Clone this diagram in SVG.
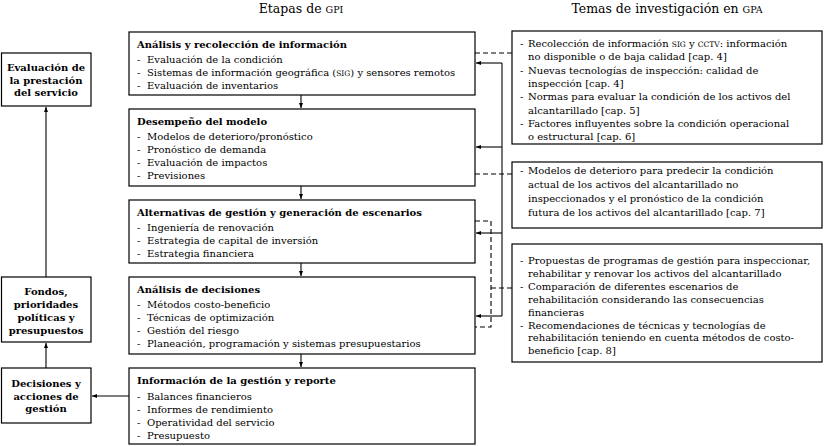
<svg xmlns="http://www.w3.org/2000/svg" width="824" height="446" viewBox="0 0 824 446">
<defs>
<marker id="ah" viewBox="0 0 6 6" refX="6" refY="3" markerWidth="5" markerHeight="5" orient="auto" markerUnits="userSpaceOnUse">
<path d="M0,0.6 L6,3 L0,5.4 Z" fill="#000"/>
</marker>
<style>
.box{fill:#fff;stroke:#000;stroke-width:1.2}
text{font-family:"DejaVu Serif","Liberation Serif",serif;fill:#000}
.t{font-size:12.5px}
.h{font-size:10px;font-weight:bold}
.b{font-size:10px}
.lb{font-size:10px;font-weight:bold;text-anchor:middle}
.sc{font-size:7.5px}
.sct{font-size:9.5px}
.ln{fill:none;stroke:#000;stroke-width:1.1}
.ds{fill:none;stroke:#000;stroke-width:1.1;stroke-dasharray:5,3}
</style>
</defs>
<rect width="824" height="446" fill="#fff"/>

<text class="t" x="301" y="13" text-anchor="middle">Etapas de <tspan class="sct">GPI</tspan></text>
<text class="t" x="667" y="13" text-anchor="middle">Temas de investigación en <tspan class="sct">GPA</tspan></text>

<g id="connectors">
<path class="ds" d="M475 53 H512"/>
<path class="ds" d="M475 174 H512"/>
<path class="ds" d="M475 221 H491 V327 H475"/>
<path class="ds" d="M491 288 H512"/>
<path class="ln" d="M502 63 V316"/>
<path class="ln" d="M502 63 H476" marker-end="url(#ah)"/>
<path class="ln" d="M502 147 H476" marker-end="url(#ah)"/>
<path class="ln" d="M502 233 H476" marker-end="url(#ah)"/>
<path class="ln" d="M502 316 H476" marker-end="url(#ah)"/>
<path class="ln" d="M301 95 V108" marker-end="url(#ah)"/>
<path class="ln" d="M301 186 V199" marker-end="url(#ah)"/>
<path class="ln" d="M301 263 V276" marker-end="url(#ah)"/>
<path class="ln" d="M301 354 V367" marker-end="url(#ah)"/>
<path class="ln" d="M129 396 H92" marker-end="url(#ah)"/>
<path class="ln" d="M46 368 V343" marker-end="url(#ah)"/>
<path class="ln" d="M46 277 V107" marker-end="url(#ah)"/>
</g>

<g id="eval">
<rect class="box" x="1.5" y="53" width="89.5" height="53"/>
<text class="lb"><tspan x="46" y="71">Evaluación de</tspan><tspan x="46" y="83.5">la prestación</tspan><tspan x="46" y="96">del servicio</tspan></text>
</g>
<g id="fondos">
<rect class="box" x="1.5" y="277" width="89.5" height="65"/>
<text class="lb"><tspan x="46" y="295">Fondos,</tspan><tspan x="46" y="308">prioridades</tspan><tspan x="46" y="321">políticas y</tspan><tspan x="46" y="334">presupuestos</tspan></text>
</g>
<g id="decisiones">
<rect class="box" x="1.5" y="368" width="89.5" height="55"/>
<text class="lb"><tspan x="46" y="386.5">Decisiones y</tspan><tspan x="46" y="399.5">acciones de</tspan><tspan x="46" y="412">gestión</tspan></text>
</g>

<g id="analisis">
<rect class="box" x="129" y="32" width="346" height="63"/>
<text class="h" x="137" y="48">Análisis y recolección de información</text>
<text class="b"><tspan x="137" y="63">-</tspan><tspan x="147" y="63">Evaluación de la condición</tspan></text>
<text class="b"><tspan x="137" y="76">-</tspan><tspan x="147" y="76">Sistemas de información geográfica (<tspan class="sc">SIG</tspan>) y sensores remotos</tspan></text>
<text class="b"><tspan x="137" y="89">-</tspan><tspan x="147" y="89">Evaluación de inventarios</tspan></text>
</g>
<g id="desempeno">
<rect class="box" x="129" y="109" width="346" height="77"/>
<text class="h" x="137" y="125">Desempeño del modelo</text>
<text class="b"><tspan x="137" y="140">-</tspan><tspan x="147" y="140">Modelos de deterioro/pronóstico</tspan></text>
<text class="b"><tspan x="137" y="153">-</tspan><tspan x="147" y="153">Pronóstico de demanda</tspan></text>
<text class="b"><tspan x="137" y="166">-</tspan><tspan x="147" y="166">Evaluación de impactos</tspan></text>
<text class="b"><tspan x="137" y="179">-</tspan><tspan x="147" y="179">Previsiones</tspan></text>
</g>
<g id="alternativas">
<rect class="box" x="129" y="200" width="346" height="63"/>
<text class="h" x="137" y="216">Alternativas de gestión y generación de escenarios</text>
<text class="b"><tspan x="137" y="231">-</tspan><tspan x="147" y="231">Ingeniería de renovación</tspan></text>
<text class="b"><tspan x="137" y="244">-</tspan><tspan x="147" y="244">Estrategia de capital de inversión</tspan></text>
<text class="b"><tspan x="137" y="257">-</tspan><tspan x="147" y="257">Estrategia financiera</tspan></text>
</g>
<g id="analisis-decisiones">
<rect class="box" x="129" y="277" width="346" height="77"/>
<text class="h" x="137" y="293">Análisis de decisiones</text>
<text class="b"><tspan x="137" y="308">-</tspan><tspan x="147" y="308">Métodos costo-beneficio</tspan></text>
<text class="b"><tspan x="137" y="321">-</tspan><tspan x="147" y="321">Técnicas de optimización</tspan></text>
<text class="b"><tspan x="137" y="334">-</tspan><tspan x="147" y="334">Gestión del riesgo</tspan></text>
<text class="b"><tspan x="137" y="347">-</tspan><tspan x="147" y="347">Planeación, programación y sistemas presupuestarios</tspan></text>
</g>
<g id="informacion">
<rect class="box" x="129" y="368" width="346" height="76"/>
<text class="h" x="137" y="384">Información de la gestión y reporte</text>
<text class="b"><tspan x="137" y="399.5">-</tspan><tspan x="147" y="399.5">Balances financieros</tspan></text>
<text class="b"><tspan x="137" y="412.5">-</tspan><tspan x="147" y="412.5">Informes de rendimiento</tspan></text>
<text class="b"><tspan x="137" y="425.5">-</tspan><tspan x="147" y="425.5">Operatividad del servicio</tspan></text>
<text class="b"><tspan x="137" y="438.5">-</tspan><tspan x="147" y="438.5">Presupuesto</tspan></text>
</g>

<g id="temas1">
<rect class="box" x="512" y="31" width="310" height="113"/>
<text class="b"><tspan x="520" y="47">-</tspan><tspan x="528" y="47">Recolección de información <tspan class="sc">SIG</tspan> y <tspan class="sc">CCTV</tspan>: información</tspan></text>
<text class="b" x="528" y="60.3">no disponible o de baja calidad [cap. 4]</text>
<text class="b"><tspan x="520" y="73.6">-</tspan><tspan x="528" y="73.6">Nuevas tecnologías de inspección: calidad de</tspan></text>
<text class="b" x="528" y="86.9">inspección [cap. 4]</text>
<text class="b"><tspan x="520" y="100.2">-</tspan><tspan x="528" y="100.2">Normas para evaluar la condición de los activos del</tspan></text>
<text class="b" x="528" y="113.5">alcantarillado [cap. 5]</text>
<text class="b"><tspan x="520" y="126.8">-</tspan><tspan x="528" y="126.8">Factores influyentes sobre la condición operacional</tspan></text>
<text class="b" x="528" y="140">o estructural [cap. 6]</text>
</g>
<g id="temas2">
<rect class="box" x="512" y="162" width="310" height="66"/>
<text class="b"><tspan x="520" y="174">-</tspan><tspan x="528" y="174">Modelos de deterioro para predecir la condición</tspan></text>
<text class="b" x="528" y="188">actual de los activos del alcantarillado no</text>
<text class="b" x="528" y="202">inspeccionados y el pronóstico de la condición</text>
<text class="b" x="528" y="216">futura de los activos del alcantarillado [cap. 7]</text>
</g>
<g id="temas3">
<rect class="box" x="512" y="244" width="310" height="118"/>
<text class="b"><tspan x="520" y="264">-</tspan><tspan x="528" y="264">Propuestas de programas de gestión para inspeccionar,</tspan></text>
<text class="b" x="528" y="276.9">rehabilitar y renovar los activos del alcantarillado</text>
<text class="b"><tspan x="520" y="289.8">-</tspan><tspan x="528" y="289.8">Comparación de diferentes escenarios de</tspan></text>
<text class="b" x="528" y="302.7">rehabilitación considerando las consecuencias</text>
<text class="b" x="528" y="315.6">financieras</text>
<text class="b"><tspan x="520" y="328.5">-</tspan><tspan x="528" y="328.5">Recomendaciones de técnicas y tecnologías de</tspan></text>
<text class="b" x="528" y="341.4">rehabilitación teniendo en cuenta métodos de costo-</text>
<text class="b" x="528" y="354.3">beneficio [cap. 8]</text>
</g>
</svg>
